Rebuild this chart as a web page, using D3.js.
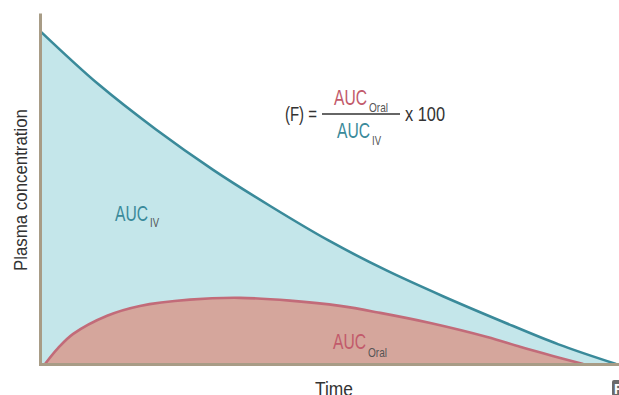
<!DOCTYPE html>
<html><head><meta charset="utf-8">
<script src="https://cdn.jsdelivr.net/npm/d3@7"></script>
<style>
html,body{margin:0;padding:0;background:#fff;overflow:hidden}
text{font-family:"Liberation Sans",Arial,sans-serif}
</style></head>
<body><svg id="c" width="619" height="395"></svg>
<script>
// Time axis (arbitrary units 0-100) and concentrations (arbitrary units)
const ivTime  = [0, 10, 20, 30, 40, 50, 60, 70, 80, 90, 100];
const ivConc  = [94.9, 79.9, 67.0, 55.4, 45.0, 35.3, 26.8, 19.3, 12.3, 5.6, 0];
const oralTime = [0.7, 3, 5.6, 11.5, 17.2, 25.9, 34.6, 43.3, 52, 59, 67.7, 77.6, 83.3, 89, 94.3];
const oralConc = [0, 4.6, 8.6, 13.8, 16.6, 18.4, 18.9, 18.1, 16.6, 14.6, 11.7, 7.7, 4.9, 2.3, 0];
const xLabel = "Time";
const yLabel = "Plasma concentration";

const svg = d3.select("#c");
const x = d3.scaleLinear().domain([0, 100]).range([41, 616]);
const y = d3.scaleLinear().domain([0, 100]).range([364, 14]);

const iv = ivTime.map((t, i) => ({t, c: ivConc[i]}));
const oral = oralTime.map((t, i) => ({t, c: oralConc[i]}));

const curve = d3.curveCatmullRom.alpha(0.5);
const area = d3.area().x(d => x(d.t)).y0(y(0)).y1(d => y(d.c)).curve(curve);
const line = d3.line().x(d => x(d.t)).y(d => y(d.c)).curve(curve);

svg.append("path").datum(iv).attr("d", area).attr("fill", "#c4e6ea");
svg.append("path").datum(iv).attr("d", line).attr("fill", "none").attr("stroke", "#3a8a9a").attr("stroke-width", 2.6);
svg.append("path").datum(oral).attr("d", area).attr("fill", "#d5a69c");
svg.append("path").datum(oral).attr("d", line).attr("fill", "none").attr("stroke", "#c26b79").attr("stroke-width", 2.6);

// axes (no ticks)
const axisCol = "#a89c86";
const yAxis = svg.append("g").attr("transform", `translate(${x(0) - 1},0)`)
  .call(d3.axisLeft(d3.scaleLinear().domain([0, 1]).range([365.5, 13])).ticks(0).tickSizeOuter(0));
yAxis.select(".domain").attr("stroke", axisCol).attr("stroke-width", 3);
const xAxis = svg.append("g").attr("transform", `translate(0,${y(0)})`)
  .call(d3.axisBottom(d3.scaleLinear().domain([0, 1]).range([38.5, 619])).ticks(0).tickSizeOuter(0));
xAxis.select(".domain").attr("stroke", axisCol).attr("stroke-width", 3);

function txt(xp, yp, s, size, col, w) {
  return svg.append("text").attr("x", xp).attr("y", yp).attr("font-size", size)
    .attr("fill", col).attr("textLength", w).attr("lengthAdjust", "spacingAndGlyphs").text(s);
}

// axis titles
svg.append("text").attr("transform", "translate(27,190) rotate(-90)")
  .attr("text-anchor", "middle").attr("font-size", 19).attr("fill", "#333")
  .attr("textLength", 162).attr("lengthAdjust", "spacingAndGlyphs").text(yLabel);
svg.append("text").attr("x", 334).attr("y", 396).attr("text-anchor", "middle")
  .attr("font-size", 20).attr("fill", "#333")
  .attr("textLength", 38).attr("lengthAdjust", "spacingAndGlyphs").text(xLabel);

// AUC labels
const teal = "#3a8a9a", red = "#c25a6b";
function auc(xp, yp, col, sub, subDy, subW) {
  txt(xp, yp, "AUC", 21.5, col, 33);
  txt(xp + 35, yp + subDy, sub, 13, "#555", subW);
}
auc(115, 221, teal, "IV", 6, 9);
auc(333, 349, red, "Oral", 8, 19);

// formula
txt(285, 121, "(F) =", 21, "#333", 32);
svg.append("line").attr("x1", 322).attr("x2", 400).attr("y1", 114).attr("y2", 114).attr("stroke", "#333").attr("stroke-width", 1.5);
auc(334, 105, red, "Oral", 7, 19);
auc(337, 138, teal, "IV", 7, 9);
txt(405, 121, "x 100", 21, "#333", 40);

// small logo fragment at bottom right
svg.append("rect").attr("x", 612).attr("y", 380).attr("width", 12).attr("height", 16).attr("rx", 2).attr("fill", "#6a6a6a");
svg.append("text").attr("x", 614).attr("y", 394).attr("font-size", 14).attr("font-weight", "bold").attr("fill", "#fff").text("F");
</script></body></html>
